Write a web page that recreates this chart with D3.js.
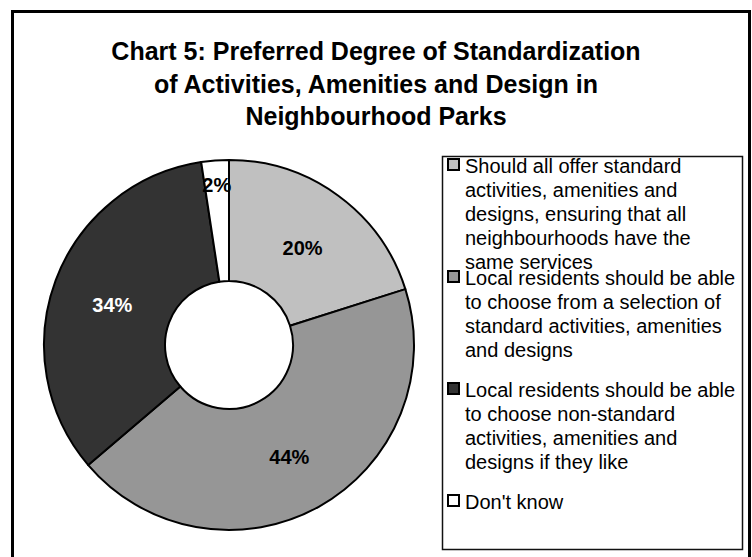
<!DOCTYPE html>
<html>
<head>
<meta charset="utf-8">
<script src="https://cdn.jsdelivr.net/npm/d3@7"></script>
<style>
  html, body { margin: 0; padding: 0; background: #fff; }
  svg { display: block; }
</style>
</head>
<body>
<div id="chart"></div>
<script>
// ---- data ----
const titleLines = [
  "Chart 5: Preferred Degree of Standardization",
  "of Activities, Amenities and Design in",
  "Neighbourhood Parks"
];
const categories = [
  "Should all offer standard activities, amenities and designs, ensuring that all neighbourhoods have the same services",
  "Local residents should be able to choose from a selection of standard activities, amenities and designs",
  "Local residents should be able to choose non-standard activities, amenities and designs if they like",
  "Don't know"
];
const values = [20.1, 43.6, 33.8, 2.4];
const colors = ["#C0C0C0", "#969696", "#333333", "#FFFFFF"];
const labelColors = ["#000000", "#000000", "#FFFFFF", "#000000"];

// ---- layout ----
const W = 752, H = 557;
const cx = 229, cy = 345, rOuter = 185, rInner = 64;
const font = "'Liberation Sans', Arial, Helvetica, sans-serif";

const svg = d3.select("#chart").append("svg")
  .attr("width", W).attr("height", H);

svg.append("rect").attr("width", W).attr("height", H).attr("fill", "#fff");

// outer frame
svg.append("rect")
  .attr("x", 12.5).attr("y", 11.5)
  .attr("width", 737).attr("height", 560)
  .attr("fill", "none").attr("stroke", "#000").attr("stroke-width", 3);

// title
const title = svg.append("text")
  .attr("text-anchor", "middle")
  .attr("font-family", font).attr("font-weight", "bold")
  .attr("font-size", 25).attr("fill", "#000");
titleLines.forEach((t, i) => {
  title.append("tspan").attr("x", 376).attr("y", 60 + i * 32.5).text(t);
});

// pie
const total = d3.sum(values);
const pie = d3.pie().sort(null).value(d => d)
  .startAngle(0).endAngle(2 * Math.PI);
const arcs = pie(values);
const arc = d3.arc().innerRadius(rInner).outerRadius(rOuter);

const g = svg.append("g").attr("transform", `translate(${cx},${cy})`);
g.selectAll("path.slice").data(arcs).join("path")
  .attr("class", "slice")
  .attr("d", arc)
  .attr("fill", (d, i) => colors[i])
  .attr("stroke", "#000").attr("stroke-width", 2)
  .attr("stroke-linejoin", "round");

const fmt = d3.format(".0%");
const smallArc = d3.arc().innerRadius(150).outerRadius(176);
g.selectAll("text.lbl").data(arcs).join("text")
  .attr("class", "lbl")
  .attr("transform", d => {
    const share = d.value / total;
    const c = share < 0.05 ? smallArc.centroid(d) : arc.centroid(d);
    return `translate(${c[0]},${c[1]})`;
  })
  .attr("text-anchor", "middle").attr("dy", "0.5em")
  .attr("font-family", font).attr("font-weight", "bold")
  .attr("font-size", 20)
  .attr("fill", (d, i) => labelColors[i])
  .text(d => fmt(d.value / total));

// legend
const lgX = 442, lgY = 156, lgW = 300, lgH = 393;
svg.append("rect")
  .attr("x", lgX + 0.5).attr("y", lgY + 0.5)
  .attr("width", lgW).attr("height", lgH)
  .attr("fill", "#fff").attr("stroke", "#111").attr("stroke-width", 1.5);

const itemY = d3.scaleLinear().domain([0, 1]).range([173, 285]);
const maxW = 275, lineH = 24;

categories.forEach((cat, i) => {
  const by = itemY(i);
  svg.append("rect")
    .attr("x", 448).attr("y", by - 14)
    .attr("width", 11).attr("height", 11)
    .attr("fill", colors[i]).attr("stroke", "#000").attr("stroke-width", 2);
  const txt = svg.append("text")
    .attr("font-family", font).attr("font-size", 20).attr("fill", "#000");
  // wrap words
  const words = cat.split(" ");
  let line = [];
  let ln = 0;
  let tspan = txt.append("tspan").attr("x", 465).attr("y", by);
  words.forEach(w => {
    line.push(w);
    tspan.text(line.join(" "));
    if (tspan.node().getComputedTextLength() > maxW && line.length > 1) {
      line.pop();
      tspan.text(line.join(" "));
      line = [w];
      ln++;
      tspan = txt.append("tspan").attr("x", 465).attr("y", by + ln * lineH).text(w);
    }
  });
});
</script>
</body>
</html>
